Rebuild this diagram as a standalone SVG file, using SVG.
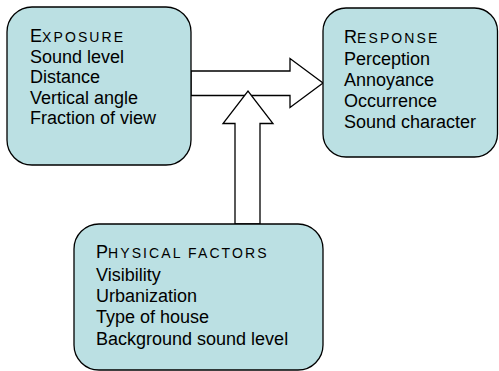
<svg xmlns="http://www.w3.org/2000/svg" width="499" height="371" viewBox="0 0 499 371">
<style>
.box{fill:#BBE0E3;stroke:#000;stroke-width:1.3}
.arrow{fill:#fff;stroke:#000;stroke-width:1.3;stroke-linejoin:miter}
text{font-family:"Liberation Sans",Arial,sans-serif;font-size:18px;fill:#000}
.sc{font-size:14px;letter-spacing:2.1px}
</style>
<rect width="499" height="371" fill="#fff"/>
<g id="connectors">
<polygon class="arrow" points="191,71 290,71 290,58.5 323,83 290,107.5 290,95.5 191,95.5"/>
<polygon class="arrow" points="235,224 235,123.5 223,123.5 248,91 273,123.5 260,123.5 260,224"/>
</g>
<g id="exposure">
<rect class="box" x="7" y="7" width="184" height="158" rx="25" ry="25"/>
<text x="30" y="42">E<tspan class="sc">XPOSURE</tspan></text>
<text x="30" y="62.5">Sound level</text>
<text x="30" y="83">Distance</text>
<text x="30" y="103.5">Vertical angle</text>
<text x="30" y="124">Fraction of view</text>
</g>
<g id="response">
<rect class="box" x="323" y="8" width="174.5" height="149" rx="23" ry="23"/>
<text x="344" y="42.7">R<tspan class="sc">ESPONSE</tspan></text>
<text x="344" y="64.5">Perception</text>
<text x="344" y="85.5">Annoyance</text>
<text x="344" y="106.5">Occurrence</text>
<text x="344" y="127.5">Sound character</text>
</g>
<g id="physical">
<rect class="box" x="74" y="224" width="249" height="146" rx="25" ry="25"/>
<text x="96" y="257.5">P<tspan class="sc">HYSICAL FACTORS</tspan></text>
<text x="96" y="280.5">Visibility</text>
<text x="96" y="301.5">Urbanization</text>
<text x="96" y="323">Type of house</text>
<text x="96" y="344.5">Background sound level</text>
</g>
</svg>
